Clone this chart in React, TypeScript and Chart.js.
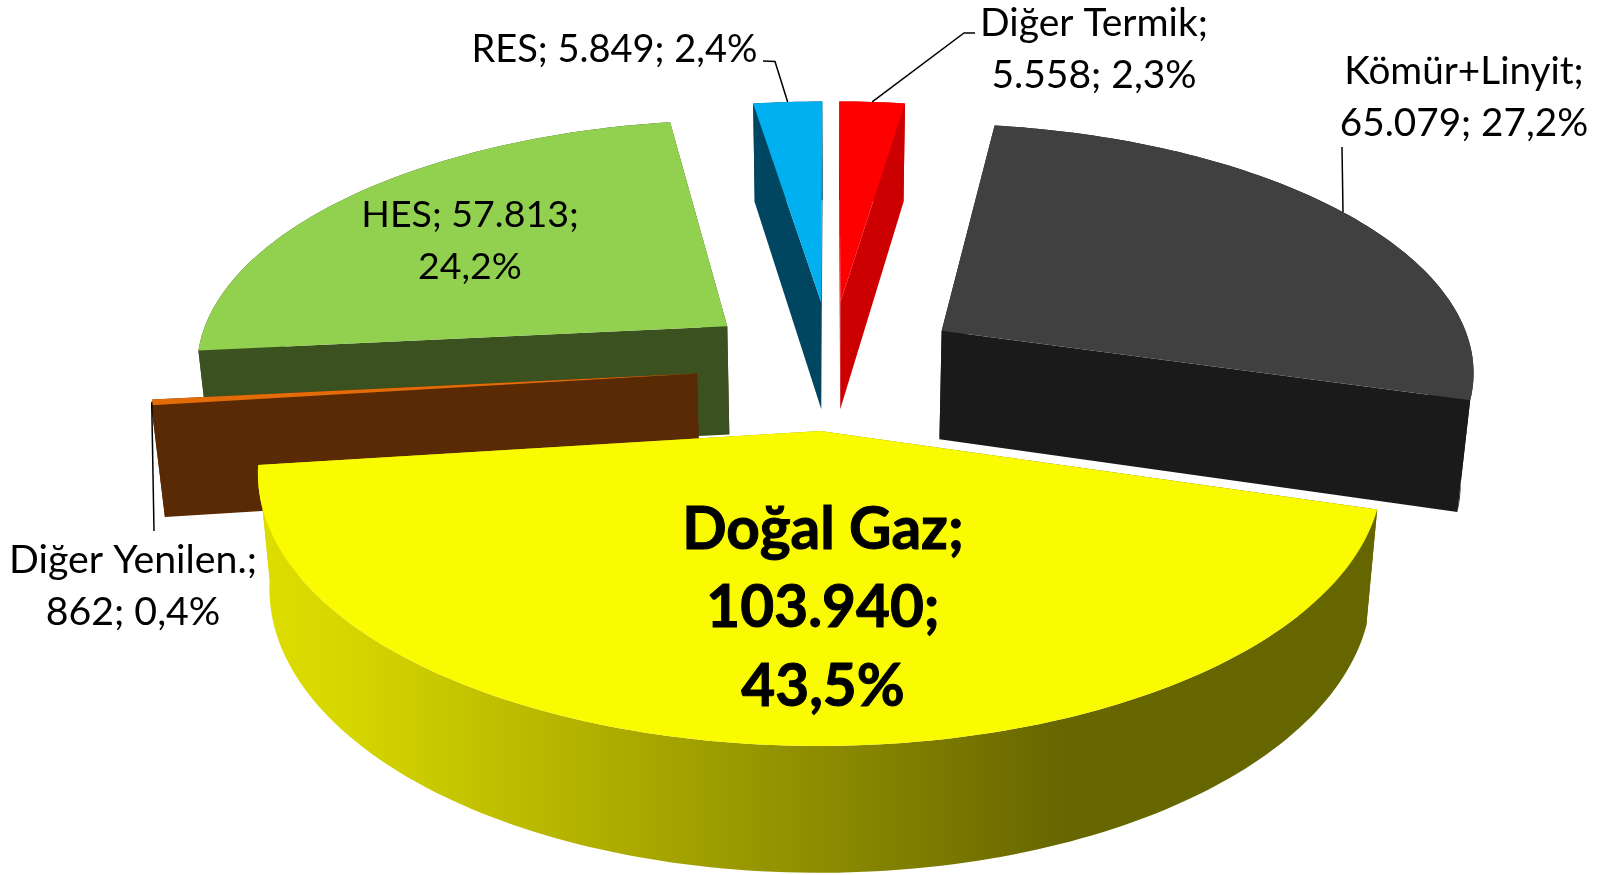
import React, { useEffect, useRef } from "react";
import { Chart, registerables } from "chart.js";

Chart.register(...registerables);

const categories = ["Diğer Termik", "Kömür+Linyit", "Doğal Gaz", "Diğer Yenilen.", "HES", "RES"];
const capacityValues = [5558, 65079, 103940, 862, 57813, 5849];
const topColors = ["#FF0000", "#404040", "#FAFA00", "#E36C09", "#92D050", "#00B0F0"];
const sideColors = ["#CC0000", "#1A1A1A", "gradient", "#5A2A05", "#3C5120", "#004660"];
const labelLines = [
  ["Diğer Termik;", "5.558; 2,3%"],
  ["Kömür+Linyit;", "65.079; 27,2%"],
  ["Doğal Gaz;", "103.940;", "43,5%"],
  ["Diğer Yenilen.;", "862; 0,4%"],
  ["HES; 57.813;", "24,2%"],
  ["RES; 5.849; 2,4%"],
];

// Layout only: slice explosion, label centres and sizes, and the elbows of the leader lines
const sliceOffsets = [104, 104, 98, 104, 104, 104];
const labelCentre = [
  [1094, 23.5], [1464, 71.5], [823, 530], [133, 560], [470, 214.6], [614.4, 50],
];
const lineHeights = [52, 52, 78.5, 52, 52, 52];
const labelSizes = [39, 38.7, 58.5, 39.3, 37.5, 38];
const leaderElbows: (number[][] | null)[] = [
  [[975, 33], [964, 33]],
  [[1342, 147]],
  null,
  [[154, 531]],
  null,
  [[763, 61], [775, 61.5]],
];
const GAS_STOPS: [number, string][] = [[0, "#DDDD00"], [0.07, "#D8D800"], [0.72, "#676600"], [1, "#666600"]];

// Camera: perspective tilt of the pie plane, and the shift to the lower rim
const CX = 831, CY = 366, SX = 535, SY = 247.3, PERSP = 0.147, EXPLODE_X = 0.93;
const RIM_X = 0.98, RIM_YS = 1.044, RIM_Y0 = 94;
const project = (u: number, v: number) => {
  const w = 1 - PERSP * v;
  return [CX + (SX * u) / w, CY + (SY * v) / w];
};
const rim = (p: number[]) => [CX + (p[0] - CX) * RIM_X, p[1] * RIM_YS + RIM_Y0];

const sliceOutline = (el: any) => {
  const e = el.options.offset / el.outerRadius;
  const mid = (el.startAngle + el.endAngle) / 2;
  const ou = e * EXPLODE_X * Math.cos(mid), ov = e * Math.sin(mid);
  const steps = Math.max(2, Math.ceil((el.endAngle - el.startAngle) / 0.02));
  const pts = [project(ou, ov)];
  for (let i = 0; i <= steps; i++) {
    const a = el.startAngle + ((el.endAngle - el.startAngle) * i) / steps;
    pts.push(project(ou + Math.cos(a), ov + Math.sin(a)));
  }
  const arcMid = project(ou + Math.cos(mid), ov + Math.sin(mid));
  return { pts, arcMid, depth: Math.sin(mid) };
};

const fillPoly = (ctx: CanvasRenderingContext2D, pts: number[][], style: any) => {
  ctx.beginPath();
  pts.forEach((p, i) => (i ? ctx.lineTo(p[0], p[1]) : ctx.moveTo(p[0], p[1])));
  ctx.closePath();
  ctx.fillStyle = style;
  ctx.fill();
};

const pie3d = {
  id: "pie3d",
  beforeDatasetsDraw(chart: any) {
    const ctx: CanvasRenderingContext2D = chart.ctx;
    const arcs = chart.getDatasetMeta(0).data;
    const bg = chart.data.datasets[0].backgroundColor;
    const slices = arcs.map((el: any, i: number) => ({ i, ...sliceOutline(el) }));
    const order = [...slices].sort((a, b) => a.depth - b.depth);
    for (const s of order) {
      const low = s.pts.map(rim);
      let side: any = sideColors[s.i];
      if (side === "gradient") {
        const xs = s.pts.map((p: number[]) => p[0]);
        const g = ctx.createLinearGradient(Math.min(...xs), 0, Math.max(...xs), 0);
        GAS_STOPS.forEach(([o, c]) => g.addColorStop(o, c));
        side = g;
      }
      const n = s.pts.length;
      // the two cut faces, then the curved wall as one shape so no seams show
      fillPoly(ctx, [s.pts[0], s.pts[1], low[1], low[0]], side);
      fillPoly(ctx, [s.pts[0], s.pts[n - 1], low[n - 1], low[0]], side);
      fillPoly(ctx, [...s.pts.slice(1), ...low.slice(1).reverse()], side);
      fillPoly(ctx, s.pts, bg[s.i]);
    }
    ctx.strokeStyle = "#000";
    ctx.lineWidth = 1.5;
    slices.forEach((s: any) => {
      const elbows = leaderElbows[s.i];
      if (!elbows) return;
      ctx.beginPath();
      ctx.moveTo(s.arcMid[0], s.arcMid[1]);
      [...elbows].reverse().forEach((p) => ctx.lineTo(p[0], p[1]));
      ctx.stroke();
    });
    ctx.fillStyle = "#000";
    ctx.textAlign = "center";
    ctx.textBaseline = "middle";
    labelLines.forEach((lines, i) => {
      const bold = i === 2;
      ctx.font = `${bold ? "bold " : ""}${labelSizes[i]}px Lato`;
      lines.forEach((t, j) => {
        const y = labelCentre[i][1] + j * lineHeights[i];
        ctx.fillText(t, labelCentre[i][0], y);
        if (bold) {
          ctx.lineWidth = 1;
          ctx.strokeText(t, labelCentre[i][0], y);
        }
      });
    });
    ctx.font = "38px Lato";
    ctx.fillText("(              )", 1394.5, -18);
    return false;
  },
};

export default function App() {
  const ref = useRef<HTMLCanvasElement>(null);
  useEffect(() => {
    const chart = new Chart(ref.current!, {
      type: "pie",
      data: {
        labels: categories,
        datasets: [{
          data: capacityValues,
          backgroundColor: topColors,
          borderWidth: 0,
          offset: sliceOffsets,
        }],
      },
      options: {
        animation: false,
        responsive: false,
        layout: { padding: 0 },
        plugins: { legend: { display: false }, tooltip: { enabled: false } },
      },
      plugins: [pie3d],
    } as any);
    return () => chart.destroy();
  }, []);
  return (
    <canvas
      ref={ref}
      width={1603}
      height={875}
      style={{ position: "absolute", left: 0, top: 0, display: "block" }}
    />
  );
}
